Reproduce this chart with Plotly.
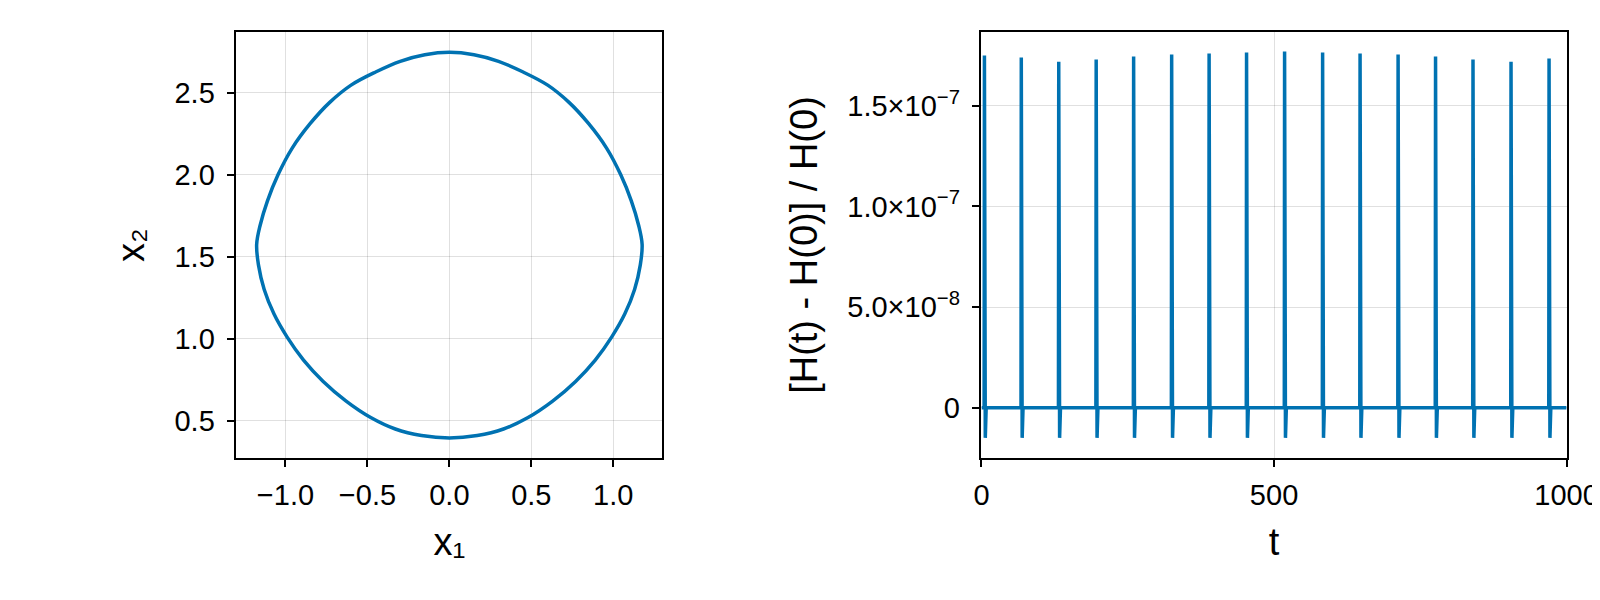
import plotly.graph_objects as go
from plotly.subplots import make_subplots

# Left panel: phase-space orbit
xr = [0, 0.15, 0.3, 0.45, 0.6, 0.73, 0.85, 0.96, 1.045, 1.11, 1.155, 1.176, 1.165, 1.13, 1.07,
      0.99, 0.89, 0.77, 0.63, 0.48, 0.33, 0.17, 0]
yr = [2.745, 2.73, 2.69, 2.625, 2.545, 2.44, 2.31, 2.16, 2.0, 1.84, 1.69, 1.575, 1.45, 1.30, 1.15,
      1.01, 0.87, 0.74, 0.62, 0.52, 0.45, 0.41, 0.395]
x1 = xr + [-v for v in xr[::-1][1:]]
x2 = yr + yr[::-1][1:]

# Right panel: relative energy error spikes
spike_t = [5, 68, 132, 196, 260, 325, 389, 453, 518, 583, 647, 712, 776, 840, 905, 970]
spike_h = [1.75e-7, 1.74e-7, 1.72e-7, 1.73e-7, 1.745e-7, 1.755e-7, 1.76e-7, 1.765e-7,
           1.77e-7, 1.765e-7, 1.76e-7, 1.755e-7, 1.745e-7, 1.73e-7, 1.72e-7, 1.735e-7]
dip = -1.5e-8
t_end = 1000

t, e = [0], [0]
for st, sh in zip(spike_t, spike_h):
    t += [st - 0.5, st, st + 1.5, st + 3]
    e += [0, sh, dip, 0]
t.append(t_end); e.append(0)

yt_vals = [0, 5e-8, 1e-7, 1.5e-7]
yt_text = ["0", "5.0×10<sup>−8</sup>", "1.0×10<sup>−7</sup>", "1.5×10<sup>−7</sup>"]

W, H = 1600, 600
S, O = 0.981, 7.0
def fx(s): return (s - O) / S
def dx(a, b): return [fx(a) / W, fx(b) / W]
def dy(top, bot): return [1 - fx(bot) / H, 1 - fx(top) / H]

fig = make_subplots(rows=1, cols=2)
col = "#0072b2"
fig.add_trace(go.Scatter(x=x1, y=x2, mode="lines",
                         line=dict(color=col, width=3.5, shape="spline", smoothing=1, simplify=False)), 1, 1)
fig.add_trace(go.Scatter(x=t, y=e, mode="lines", line=dict(color=col, width=3.5, simplify=False)), 1, 2)

ax = dict(showline=True, linecolor="black", linewidth=1.5, mirror=True, ticks="outside",
          ticklen=8, tickcolor="black", tickwidth=1.5, gridcolor="rgba(0,0,0,0.12)", zeroline=False,
          tickfont=dict(size=29), title_font=dict(size=38))
fig.update_xaxes(**ax, ticklabelstandoff=3, title_standoff=18)
fig.update_yaxes(**ax, ticklabelstandoff=6, title_standoff=18)
fig.update_layout(
    width=W, height=H, showlegend=False, plot_bgcolor="white", paper_bgcolor="white",
    font=dict(family="Liberation Sans, Arial", color="black"),
    margin=dict(l=0, r=0, t=0, b=0, autoexpand=False),
    xaxis=dict(domain=dx(231, 649), range=[-1.30, 1.30], tickvals=[-1, -0.5, 0, 0.5, 1],
               ticktext=["−1.0", "−0.5", "0.0", "0.5", "1.0"], title_text="x₁"),
    yaxis=dict(domain=dy(31, 448), range=[0.276, 2.866], tickvals=[0.5, 1, 1.5, 2, 2.5],
               ticktext=["0.5", "1.0", "1.5", "2.0", "2.5"], title_text="x₂"),
    xaxis2=dict(domain=dx(962, 1536), range=[0, 1000], tickvals=[0, 500, 1000], title_text="t"),
    yaxis2=dict(domain=dy(31, 448), range=[-2.48e-8, 1.865e-7], tickvals=yt_vals,
                ticktext=yt_text, title_text="[H(t) - H(0)] / H(0)"),
)
fig.write_html("out.html")
